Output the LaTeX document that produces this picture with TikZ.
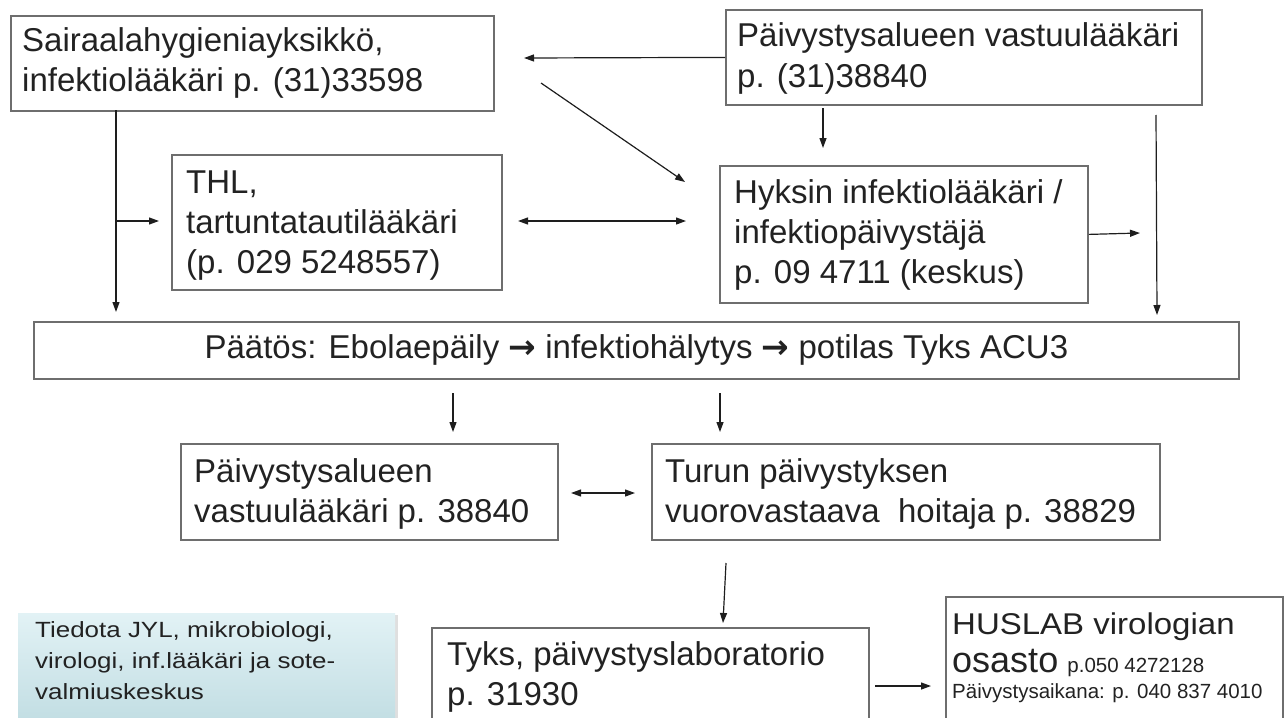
\documentclass[tikz,border=0pt]{standalone}
\usepackage{fontspec}
\setmainfont{Liberation Sans}
\newfontfamily\stretchfont[FakeStretch=1.18]{Liberation Sans}
\newfontfamily\husfont[FakeStretch=1.1]{Liberation Sans}
\newfontfamily\arrowfont{DejaVu Sans}
\usetikzlibrary{arrows.meta,shadows}
\definecolor{boxgray}{HTML}{6E6E6E}
\definecolor{arrc}{HTML}{1E1E1E}
\definecolor{textc}{HTML}{222222}
\definecolor{tiedTop}{HTML}{E2F2F5}
\definecolor{tiedBot}{HTML}{BCDAE0}
\tikzset{
  boxnode/.style={draw=boxgray, line width=1.8pt, inner sep=0pt, anchor=north west},
  txt/.style={inner sep=0pt, anchor=base west, text=textc, font=\fontsize{33}{40}\selectfont},
  arr/.style={draw=arrc, line width=1.2pt, -{Triangle[length=10pt,width=7pt]}},
  darr/.style={draw=arrc, line width=1.2pt, {Triangle[length=10pt,width=7pt]}-{Triangle[length=10pt,width=7pt]}},
}
\begin{document}
\begin{tikzpicture}[x=1pt,y=-1pt]
\useasboundingbox (0,0) rectangle (1284,717);
\clip (0,0) rectangle (1284,717);

% boxes
\node[boxnode, minimum width=483pt, minimum height=95pt] (sai) at (10,15) {};
\node[boxnode, minimum width=330pt, minimum height=135pt] (thl) at (171,154) {};
\node[boxnode, minimum width=476pt, minimum height=95pt] (paiv) at (725,9) {};
\node[boxnode, minimum width=368pt, minimum height=137pt] (hyk) at (719,165) {};
\node[boxnode, minimum width=1205pt, minimum height=57pt, anchor=north west, text=textc,
      font=\fontsize{33}{40}\selectfont] (paatos) at (33,321)
  {Päätös: Ebolaepäily {\arrowfont\bfseries →} infektiohälytys {\arrowfont\bfseries →} potilas Tyks ACU3};
\node[boxnode, minimum width=377pt, minimum height=96pt] (paiv2) at (180,443) {};
\node[boxnode, minimum width=508pt, minimum height=96pt] (tur) at (651,443) {};
\node[anchor=north west, inner sep=0pt, minimum width=377pt, minimum height=127pt,
      top color=tiedTop, bottom color=tiedBot,
      drop shadow={shadow xshift=3pt, shadow yshift=-2pt, opacity=0.25, fill=gray}] (tied) at (18,613) {};
\node[boxnode, minimum width=437pt, minimum height=113pt] (tyks) at (431,627) {};
\node[boxnode, minimum width=337pt, minimum height=144pt] (hus) at (945,596) {};

% texts
\node[txt] (saiT) at (22,52) {\vtop{\hbox{Sairaalahygieniayksikkö,}\hbox{infektiolääkäri p. (31)33598}}};
\node[txt] (thlT) at (186,193) {\vtop{\hbox{THL,}\hbox{tartuntatautilääkäri}\hbox{(p. 029 5248557)}}};
\node[txt] (paivT) at (737,47) {\vtop{\hbox{Päivystysalueen vastuulääkäri}\hbox{p. (31)38840}}};
\node[txt] (hykT) at (734,203) {\vtop{\hbox{Hyksin infektiolääkäri /}\hbox{infektiopäivystäjä}\hbox{p. 09 4711 (keskus)}}};
\node[txt] (paiv2T) at (194,482) {\vtop{\hbox{Päivystysalueen}\hbox{vastuulääkäri p. 38840}}};
\node[txt] (turT) at (665,482) {\vtop{\hbox{Turun päivystyksen}\hbox{vuorovastaava\ \ hoitaja p. 38829}}};
\node[txt, font=\stretchfont\fontsize{22}{31}\selectfont] (tiedT) at (35,637)
  {\vtop{\hbox{Tiedota JYL, mikrobiologi,}\hbox{virologi, inf.lääkäri ja sote-}\hbox{valmiuskeskus}}};
\node[txt] (tyksT) at (447,665) {\vtop{\hbox{Tyks, päivystyslaboratorio}\hbox{p. 31930}}};
\node[txt, font=\husfont\fontsize{30}{36}\selectfont] (husT1) at (952,634) {HUSLAB virologian};
\node[txt] (husT2) at (952,672) {{\fontsize{36}{40}\selectfont osasto} {\fontsize{20.5}{24}\selectfont p.050 4272128}};
\node[txt, font=\fontsize{20.5}{24}\selectfont] (husT3) at (952,698) {Päivystysaikana: p. 040 837 4010};

% connector end points
\coordinate (a1) at (524,58);
\coordinate (d0) at (541,83);
\coordinate (d1) at (685,182);
\coordinate (v0) at (823,108);
\coordinate (v1) at (823,148);
\coordinate (r0) at (1156,115);
\coordinate (r1) at (1157,315);
\coordinate (s0) at (116,110);
\coordinate (s1) at (116,312);
\coordinate (b0) at (116,221);
\coordinate (b1) at (159,221);
\coordinate (t0) at (518,221);
\coordinate (t1) at (686,221);
\coordinate (h1) at (1140,233);
\coordinate (p0) at (453,393);
\coordinate (p1) at (453,432);
\coordinate (q0) at (720,393);
\coordinate (q1) at (720,432);
\coordinate (m0) at (571,493);
\coordinate (m1) at (635,493);
\coordinate (u0) at (726,563);
\coordinate (u1) at (723,623);
\coordinate (k0) at (875,686);
\coordinate (k1) at (931,686);

% connectors
\draw[arr] (paiv.west) -- (a1);
\draw[arr] (d0) -- (d1);
\draw[arr] (v0) -- (v1);
\draw[arr] (r0) -- (r1);
\draw[arr] (s0) -- (s1);
\draw[arr] (b0) -- (b1);
\draw[darr] (t0) -- (t1);
\draw[arr] (hyk.east) -- (h1);
\draw[arr] (p0) -- (p1);
\draw[arr] (q0) -- (q1);
\draw[darr] (m0) -- (m1);
\draw[arr] (u0) -- (u1);
\draw[arr] (k0) -- (k1);
\end{tikzpicture}
\end{document}
